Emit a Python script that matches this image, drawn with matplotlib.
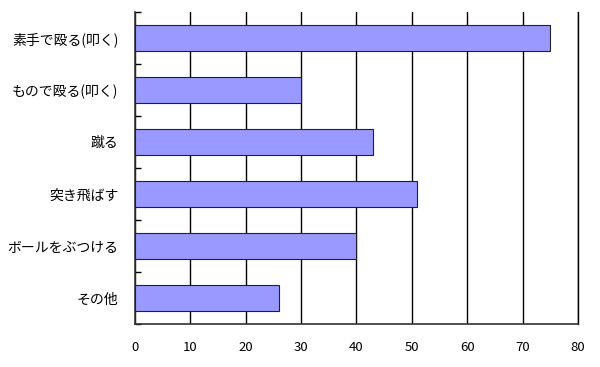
import numpy as np
import matplotlib.pyplot as plt

plt.rcParams['font.family'] = ['Noto Sans CJK JP', 'DejaVu Sans']

categories = ['素手で殴る(叩く)', 'もので殴る(叩く)', '蹴る', '突き飛ばす', 'ボールをぶつける', 'その他']
values = [75, 30, 43, 51, 40, 26]
xticks = [0, 10, 20, 30, 40, 50, 60, 70, 80]

fig = plt.figure(figsize=(6, 3.67), dpi=100)
ax = fig.add_axes([0.225, 0.1172, 0.7383, 0.8501])

y = np.arange(len(categories))
ax.barh(y, values, height=0.5, color='#9999ff', edgecolor='#222222', linewidth=0.8, zorder=3)

ax.set_xlim(0, 80)
ax.set_ylim(len(categories) - 0.5, -0.5)
ax.set_xticks(xticks)
ax.set_xticklabels([str(t) for t in xticks], fontsize=9.5)
ax.set_yticks(y)
ax.set_yticklabels(categories, fontsize=10)
ax.set_yticks(np.arange(len(categories) + 1) - 0.5, minor=True)

ax.tick_params(axis='y', which='major', length=0, pad=12)
ax.tick_params(axis='y', which='minor', length=4, direction='in', width=1)
ax.tick_params(axis='x', length=0, pad=12)

ax.xaxis.grid(True, color='black', linewidth=1, zorder=1)
ax.spines['top'].set_visible(False)
for s in ['left', 'bottom']:
    ax.spines[s].set_color('#333333')
    ax.spines[s].set_linewidth(1.2)
ax.spines['right'].set_color('black')
ax.spines['right'].set_linewidth(1)

fig.savefig('out.png')
